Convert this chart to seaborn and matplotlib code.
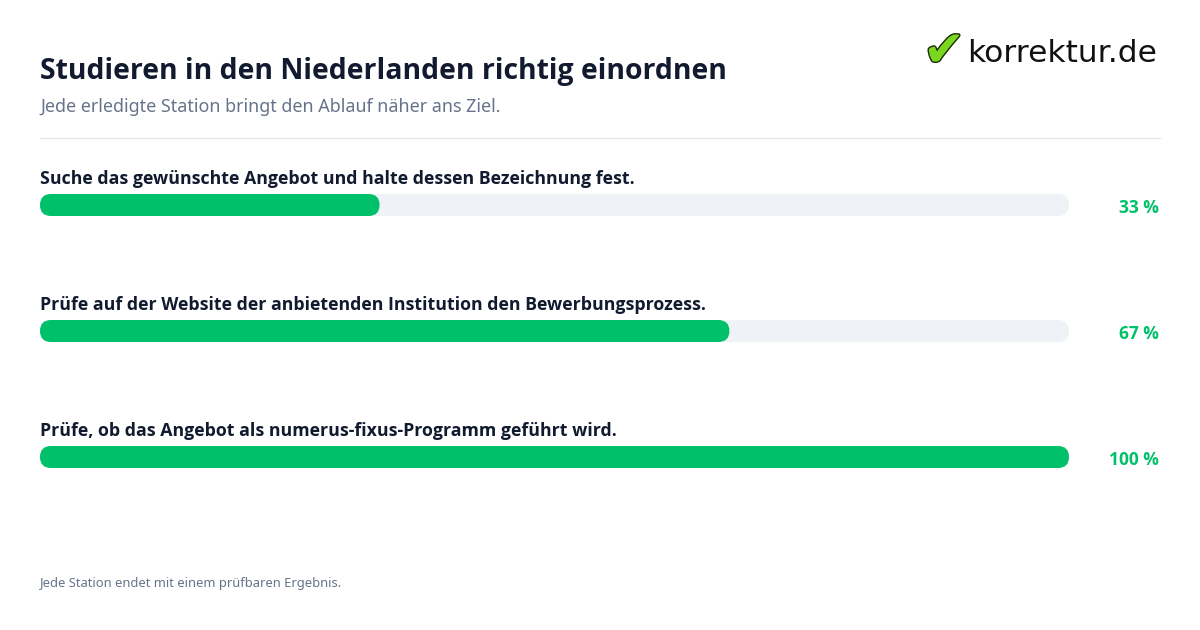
import pandas as pd
import numpy as np
import matplotlib
matplotlib.use("Agg")
import matplotlib.pyplot as plt
import matplotlib.patheffects as pe
from matplotlib.patches import FancyBboxPatch
import seaborn as sns

# ==========================================
# DATA
# ==========================================

title = "Studieren in den Niederlanden richtig einordnen"
subtitle = "Jede erledigte Station bringt den Ablauf näher ans Ziel."
footer = "Jede Station endet mit einem prüfbaren Ergebnis."

steps = [
    "Suche das gewünschte Angebot und halte dessen Bezeichnung fest.",
    "Prüfe auf der Website der anbietenden Institution den Bewerbungsprozess.",
    "Prüfe, ob das Angebot als numerus-fixus-Programm geführt wird.",
]
progress = [33, 67, 100]
totals = [100, 100, 100]

# colours
green = "#00c16a"
track = "#eff3f8"
dark = "#111a2e"
muted = "#66738a"

# ==========================================
# FIGURE
# ==========================================

sns.set_theme(style="white")
plt.rcParams["font.family"] = ["Noto Sans", "DejaVu Sans"]
bold_font = ["Open Sans", "DejaVu Sans"]

W, H = 1200, 630
fig = plt.figure(figsize=(W / 100, H / 100), dpi=100)
fig.patch.set_facecolor("white")

# bar area: x 40..1069 px, rows centred at 205 / 331 / 457 px
row_px = 126
bar_px = 22
ax_left, ax_right = 40, 1069
ax_top = 205 - row_px / 2
ax_h = row_px * len(steps)
ax = fig.add_axes([ax_left / W, 1 - (ax_top + ax_h) / H,
                   (ax_right - ax_left) / W, ax_h / H])

df = pd.DataFrame({"step": steps, "progress": progress, "total": totals})
bw = bar_px / row_px
sns.barplot(data=df, y="step", x="total", color=track, width=bw,
            saturation=1, ax=ax, orient="h")
sns.barplot(data=df, y="step", x="progress", color=green, width=bw,
            saturation=1, ax=ax, orient="h")

ax.set_xlim(0, 100)
ax.set_ylim(len(steps) - 0.5, -0.5)
ax.axis("off")

# round the bar ends
px_x = 100 / (ax_right - ax_left)
px_y = len(steps) / ax_h
r = (bar_px / 2) * px_x
asp = px_y / px_x
for p in list(ax.patches):
    x, y, w, h = p.get_x(), p.get_y(), p.get_width(), p.get_height()
    fc = p.get_facecolor()
    p.remove()
    ax.add_patch(FancyBboxPatch((x, y), w, h,
                                boxstyle=f"round,pad=0,rounding_size={r}",
                                mutation_aspect=asp, fc=fc, ec="none"))

# step labels and percentages
for i, (s, v) in enumerate(zip(steps, progress)):
    ax.text(0, i - 26 / row_px, s, ha="left", va="center", family=bold_font,
            fontsize=12.8, fontweight="bold", color=dark, clip_on=False)
    ax.text((1159 - ax_left) * px_x, i + 3 / row_px, f"{v} %", ha="right",
            va="center", family=bold_font, fontsize=12.5, fontweight="bold",
            color=green, clip_on=False)

# ==========================================
# HEADER / FOOTER
# ==========================================

fig.text(40 / W, 1 - 72 / H, title, ha="left", va="center", family=bold_font,
         fontsize=20.4, fontweight="bold", color=dark)
fig.text(40 / W, 1 - 107 / H, subtitle, ha="left", va="center",
         fontsize=12.9, color=muted)
fig.add_artist(plt.Line2D([40 / W, 1160 / W], [1 - 138 / H, 1 - 138 / H],
                          color="#e3e8ef", lw=1))
fig.text(40 / W, 1 - 583 / H, footer, ha="left", va="center",
         fontsize=9.3, color=muted)

# logo
fig.text(944 / W, 1 - 52 / H, "✔", ha="center", va="center",
         fontsize=36, color="#7ad61e", family="DejaVu Sans",
         path_effects=[pe.withStroke(linewidth=2, foreground="#1b2a0a")])
fig.text(1157 / W, 1 - 54 / H, "korrektur.de", ha="right", va="center",
         fontsize=22.5, color="#111111", family="DejaVu Sans")

plt.savefig("out.png", dpi=100, facecolor="white")
